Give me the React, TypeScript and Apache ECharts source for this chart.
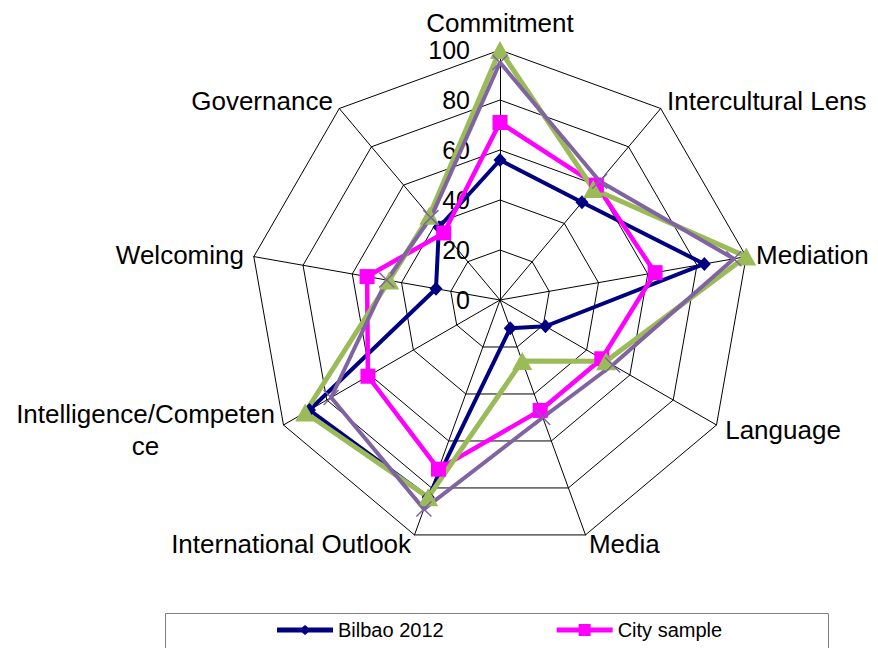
import React, { useEffect, useRef } from "react";
import * as echarts from "echarts";

// Clockwise order, starting at the top
const categories = [
  "Commitment",
  "Intercultural Lens",
  "Mediation",
  "Language",
  "Media",
  "International Outlook",
  "Intelligence/Competence",
  "Welcoming",
  "Governance",
];

const bilbao2012 = [56, 51, 83, 21, 12, 84, 88, 26, 38];
const citySample = [71, 60, 63, 47, 47, 72, 61, 54, 35];
const series3 = [100, 58, 100, 49, 26, 84, 90, 45, 44];
const series4 = [95, 62, 95, 52, 50, 89, 78, 46, 43];

const seriesNames = ["Bilbao 2012", "City sample", "Series 3", "Series 4"];
const legendNames = ["Bilbao 2012", "City sample"];
const ringTicks = [0, 20, 40, 60, 80, 100];

const FONT = "'Liberation Sans', Arial, Helvetica, sans-serif";

// ECharts places indicators counter-clockwise; reorder to get the clockwise layout
const ccwIndex = [0, 8, 7, 6, 5, 4, 3, 2, 1];
const reorder = (arr: any[]) => ccwIndex.map((i) => arr[i]);

export default function App() {
  const ref = useRef<HTMLDivElement>(null);

  useEffect(() => {
    document.body.style.margin = "0";
    if (!ref.current) return;
    const chart = echarts.init(ref.current, undefined, { renderer: "svg" });

    const nameStyle = {
      fontSize: 26,
      color: "#000",
      fontFamily: FONT,
    };

    const option: any = {
      animation: false,
      textStyle: { fontFamily: FONT },
      radar: {
        center: [500, 300],
        radius: 250,
        startAngle: 90,
        splitNumber: ringTicks.length - 1,
        shape: "polygon",
        nameGap: 10,
        indicator: reorder(categories).map((name: string) => ({
          name,
          min: ringTicks[0],
          max: ringTicks[ringTicks.length - 1],
        })),
        axisName: {
          ...nameStyle,
          lineHeight: 26,
          formatter: (name: string) => {
            if (name === categories[0]) return `{top|${name}}`;
            return name.length > 21
              ? `{c|${name.slice(0, 21)}}\n{c|${name.slice(21)}}`
              : name;
          },
          rich: {
            c: { ...nameStyle, align: "center", lineHeight: 32 },
            top: { ...nameStyle, lineHeight: 26, padding: [0, 0, 8, 0] },
          },
        },
        axisLine: { lineStyle: { color: "#000", width: 1 } },
        splitLine: { lineStyle: { color: "#000", width: 1 } },
        splitArea: { show: false },
        axisTick: { show: false },
        axisLabel: { show: false },
      },
      polar: { center: [500, 300], radius: 250 },
      angleAxis: {
        type: "value",
        min: 0,
        max: 360,
        startAngle: 90,
        show: false,
      },
      radiusAxis: {
        type: "value",
        min: ringTicks[0],
        max: ringTicks[ringTicks.length - 1],
        interval: ringTicks[1] - ringTicks[0],
        axisLine: { show: false },
        axisTick: { show: false },
        splitLine: { show: false },
        axisLabel: {
          show: true,
          inside: true,
          margin: 30,
          fontSize: 25,
          lineHeight: 20,
          color: "#000",
          fontFamily: FONT,
        },
        z: 1,
      },
      legend: {
        data: [
          {
            name: legendNames[0],
            icon: "path://M0,4.5L56,4.5L56,9.5L0,9.5Z M28,2L34,7L28,12L22,7Z",
          },
          {
            name: legendNames[1],
            icon: "path://M0,4.5L56,4.5L56,9.5L0,9.5Z M22,1L34,1L34,13L22,13Z",
          },
        ],
        left: 277,
        top: 620,
        padding: 0,
        itemWidth: 56,
        itemHeight: 14,
        itemGap: 113,
        textStyle: {
          fontSize: 20,
          color: "#000",
          fontFamily: FONT,
          lineHeight: 20,
        },
      },
      graphic: [
        {
          type: "rect",
          shape: { x: 165.5, y: 613.5, width: 663, height: 60 },
          style: { fill: "none", stroke: "#7f7f7f", lineWidth: 1 },
          silent: true,
        },
      ],
      series: [
        {
          type: "radar",
          data: [
            {
              name: seriesNames[0],
              value: reorder(bilbao2012),
              symbol: "diamond",
              symbolSize: [13, 14],
              lineStyle: { color: "#000080", width: 4 },
              itemStyle: { color: "#000080" },
            },
            {
              name: seriesNames[1],
              value: reorder(citySample),
              symbol: "rect",
              symbolSize: 15,
              lineStyle: { color: "#FF00FF", width: 4.5 },
              itemStyle: { color: "#FF00FF" },
            },
            {
              name: seriesNames[2],
              value: reorder(series3),
              symbol: "triangle",
              symbolSize: [20, 18],
              lineStyle: { color: "#9BBB59", width: 5 },
              itemStyle: { color: "#9BBB59" },
            },
            {
              name: seriesNames[3],
              value: reorder(series4),
              symbol: "path://M0,0L10,10M10,0L0,10",
              symbolSize: 15,
              lineStyle: { color: "#8064A2", width: 4 },
              itemStyle: {
                color: "#8064A2",
                borderColor: "#8064A2",
                borderWidth: 1.5,
              },
            },
          ],
        },
      ],
    };

    chart.setOption(option);
    return () => chart.dispose();
  }, []);

  return <div ref={ref} style={{ width: 878, height: 648 }} />;
}
